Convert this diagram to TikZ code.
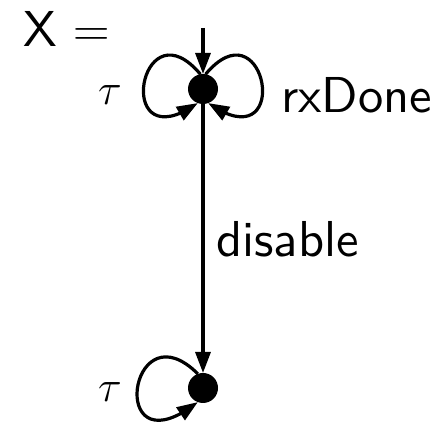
\documentclass[tikz,border=0pt]{standalone}
\usepackage{fix-cm}
\usepackage{fontspec}
\newfontfamily\sfx{lmsans10-regular.otf}
\usetikzlibrary{arrows.meta,bending}
\tikzset{
  stdot/.style={circle,fill=black,draw=none,minimum size=30pt,inner sep=0pt,outer sep=0pt},
  arr/.style={line width=3.2pt,-{Triangle[length=21pt,width=15pt]}},
  txt/.style={inner sep=0pt,anchor=base west,font=\sfx\fontsize{50.5}{60}\selectfont},
  tau/.style={inner sep=0pt,font=\fontsize{44}{52}\selectfont}
}
\begin{document}
\begin{tikzpicture}[x=1pt,y=1pt]
\useasboundingbox (0,0) rectangle (439,422);
\node[txt] (eq) at (23,375) {X $=$};
\node[stdot] (d1) at (203,333) {};
\node[stdot] (d2) at (203,34) {};
\coordinate (init) at (203,394);
\draw[arr] (init) -- (d1);
\draw[arr] (d1.100) .. controls +(130:95pt) and +(215:105pt) .. (d1.250);
\draw[arr] (d1.80) .. controls +(50:95pt) and +(-35:105pt) .. (d1.290);
\draw[arr] (d1) -- (d2);
\draw[arr] (d2.110) .. controls +(135:98pt) and +(218:117pt) .. (d2.250);
\node[tau] (t1) at (110,327) {$\tau$};
\node[tau] (t2) at (110,30) {$\tau$};
\node[txt] (rx) at (281,309) {rxDone};
\node[txt] (dis) at (216,165) {disable};
\end{tikzpicture}
\end{document}
